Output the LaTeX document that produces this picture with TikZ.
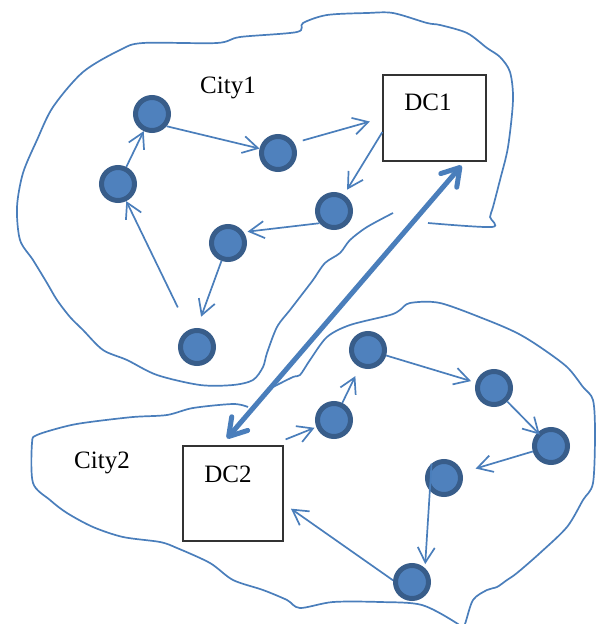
\documentclass[tikz,border=0pt]{standalone}
\usepackage{fontspec}
\setmainfont{Liberation Serif}
\usetikzlibrary{arrows.meta}
\definecolor{siteblue}{HTML}{4F81BD}
\definecolor{siteedge}{HTML}{385D8A}
\definecolor{linkblue}{HTML}{4A7EBB}

\begin{document}
\begin{tikzpicture}[x=1pt, y=-1pt,
    site/.style={circle, draw=siteedge, fill=siteblue, line width=5pt,
                 minimum size=33pt, inner sep=0pt},
    dc/.style={draw=black!80, line width=1.2pt, inner sep=0pt},
    lbl/.style={anchor=base, font=\fontsize{25}{30}\selectfont, text=black},
    link/.style={color=linkblue, line width=1.7pt,
                 -{Straight Barb[length=15pt,width=17pt]}},
    backbone/.style={draw=linkblue, line width=5pt,
                 {Straight Barb[length=17pt,width=21pt,round]}-{Straight Barb[length=17pt,width=21pt,round]}},
    city/.style={draw=linkblue, line width=1.7pt}]
	\useasboundingbox (0,0) rectangle (602,624);

	% outlines of the two cities
	\draw[city] plot[smooth, tension=0.5] coordinates {
		(428,223) (492,227) (490,217) (493,207) (500,180) (508,147) (513,100)
		(510,72) (500,57) (487,48) (467,33) (440,25) (427,23) (393,13) (367,13)
		(327,15) (303,23) (297,32) (240,37) (217,43) (143,43) (120,50) (83,72)
		(53,107) (37,140) (23,173) (17,207) (20,240) (33,260) (47,283) (57,300)
		(70,317) (83,330) (103,350) (127,360) (157,375) (200,385) (233,385)
		(253,380) (263,367) (267,353) (277,327) (290,310) (300,297) (313,280)
		(325,263) (340,253) (350,240) (367,227) (393,213)};
	\draw[city] plot[smooth, tension=0.5] coordinates {
		(248,407) (233,404) (193,408) (167,415) (133,417) (90,422) (67,426)
		(37,435) (32,443) (33,483) (50,500) (67,513) (93,527) (123,537)
		(160,542) (177,548) (210,563) (233,580) (263,590) (287,600) (300,608)
		(333,602) (380,602) (422,605) (458,624) (461,630) (465,624) (473,600)
		(487,590) (497,587) (507,580) (517,573) (540,553) (567,527) (583,500)
		(593,483) (595,433) (593,400) (583,387) (567,367) (540,347) (517,333)
		(487,320) (440,303) (410,303) (400,310) (390,315) (350,325) (327,337)
		(310,360) (300,375) (293,377) (273,387)};

	\node[lbl] (c1lab) at (228,93) {City1};
	\node[lbl] (c2lab) at (102,468) {City2};

	\node[dc, minimum width=103pt, minimum height=86pt] (dc1) at (434.5,118) {};
	\node[dc, minimum width=100pt, minimum height=95pt] (dc2) at (233,493.5) {};
	\node[lbl] (dc1lab) at (428,110) {DC1};
	\node[lbl] (dc2lab) at (228,482) {DC2};

	\node[site] (a1) at (152,114) {};
	\node[site] (a2) at (118,184) {};
	\node[site] (a3) at (278,153) {};
	\node[site] (a4) at (228,243) {};
	\node[site] (a5) at (334,211) {};
	\node[site] (a6) at (197,347) {};

	\node[site] (b1) at (368,350) {};
	\node[site] (b2) at (334,420) {};
	\node[site] (b3) at (494,388) {};
	\node[site] (b4) at (551,446) {};
	\node[site] (b5) at (444,478) {};
	\node[site] (b6) at (412,582) {};

	\path[link] (a2)  edge   (a1);
	\path[link] (a6)  edge[shorten <=25pt]   (a2);
	\path[link] (a1.-40)  edge   (a3);
	\path[link] (a3.32)  edge[shorten <=9pt, shorten >=13pt]   (dc1.west);
	\path[link] ([yshift=-14pt]dc1.west)  edge[shorten >=6pt]   (a5);
	\path[link] (a5.220)  edge[shorten >=4pt]   (a4.35);
	\path[link] (a4)  edge[shorten >=12pt]   (a6.north);

	\path[link] ([xshift=2pt,yshift=6pt]dc2.north east)  edge[shorten >=2pt]   (b2);
	\path[link] (b2)  edge[shorten >=10pt]   (b1);
	\path[link] (b1)  edge[shorten >=5pt]   (b3);
	\path[link] (b3)  edge[shorten >=-3pt]   (b4);
	\path[link] (b4)  edge[shorten >=14pt]   (b5);
	\path[link] (b5.131)  edge[shorten >=4pt]   (b6.47);
	\path[link] (b6.175)  edge[shorten >=9pt]   ([yshift=-10pt]dc2.east);

	% link between the two data centres
	\draw[backbone] ([xshift=-6pt,yshift=7pt]dc2.north) -- ([xshift=27pt,yshift=-4pt]dc1.south);

\end{tikzpicture}
\end{document}
